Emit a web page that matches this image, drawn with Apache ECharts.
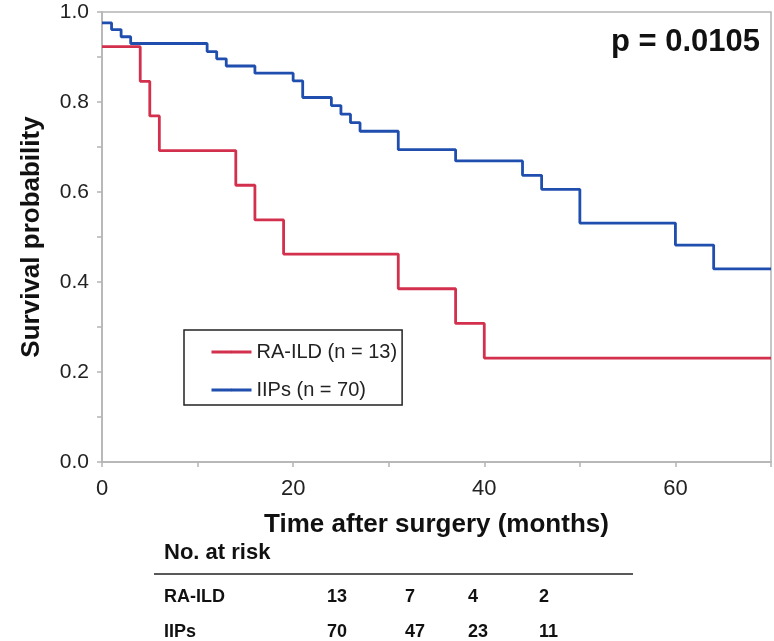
<!DOCTYPE html>
<html>
<head>
<meta charset="utf-8">
<script src="https://cdn.jsdelivr.net/npm/echarts@6/dist/echarts.min.js"></script>
<style>
html,body{margin:0;padding:0;background:#fff;}
#main{width:774px;height:641px;}
</style>
</head>
<body>
<div id="main"></div>
<script>
// ---- data ----
const seriesNames = ['RA-ILD (n = 13)', 'IIPs (n = 70)'];
const raTimes  = [0, 4, 5, 6, 14, 16, 19, 31, 37, 40, 70];
const raSurv   = [0.923, 0.846, 0.769, 0.692, 0.615, 0.538, 0.462, 0.385, 0.308, 0.231, 0.231];
const iipTimes = [0, 1, 2, 3, 11, 12, 13, 16, 20, 21, 24, 25, 26, 27, 31, 37, 44, 46, 50, 60, 64, 70];
const iipSurv  = [0.976, 0.961, 0.945, 0.930, 0.912, 0.896, 0.880, 0.864, 0.847, 0.810, 0.792, 0.773, 0.754, 0.735, 0.694, 0.669, 0.637, 0.606, 0.531, 0.482, 0.429, 0.429];
const xTicks = [0, 20, 40, 60];
const yTicks = [0.0, 0.2, 0.4, 0.6, 0.8, 1.0];
const pValueText = 'p = 0.0105';
const riskGroups = ['RA-ILD', 'IIPs'];
const riskRA  = [13, 7, 4, 2];
const riskIIP = [70, 47, 23, 11];

const FONT = 'Liberation Sans, Arial, sans-serif';
const RED = '#d3304d';
const BLUE = '#1f4eae';
const AXIS = '#b4b4b4';

const chart = echarts.init(document.getElementById('main'), null, {renderer: 'canvas'});

function pairs(ts, vs) { return ts.map((t, i) => [t, vs[i]]); }

// risk table graphics
const colX = [327, 405, 468, 539];
const riskRows = [riskRA, riskIIP];
const rowY = [597, 632];
const graphics = [];
graphics.push({type: 'text', x: 760, y: 42, style: {text: pValueText, font: 'bold 31px ' + FONT, fill: '#111', align: 'right', verticalAlign: 'middle'}});
graphics.push({type: 'text', x: 164, y: 553, style: {text: 'No. at risk', font: 'bold 22px ' + FONT, fill: '#111', verticalAlign: 'middle'}});
graphics.push({type: 'line', shape: {x1: 154, y1: 574, x2: 633, y2: 574}, style: {stroke: '#222', lineWidth: 1.5}});
riskGroups.forEach((g, r) => {
  graphics.push({type: 'text', x: 164, y: rowY[r], style: {text: g, font: 'bold 18px ' + FONT, fill: '#111', verticalAlign: 'middle'}});
  riskRows[r].forEach((v, c) => {
    graphics.push({type: 'text', x: colX[c], y: rowY[r], style: {text: String(v), font: 'bold 18px ' + FONT, fill: '#111', verticalAlign: 'middle'}});
  });
});

chart.setOption({
  animation: false,
  backgroundColor: '#fff',
  grid: {left: 102, right: 3, top: 12, bottom: 179, show: true, borderColor: AXIS, borderWidth: 1.5, containLabel: false},
  xAxis: {
    type: 'value', min: 0, max: 70, interval: 20,
    name: 'Time after surgery (months)', nameLocation: 'middle', nameGap: 50,
    nameTextStyle: {fontFamily: FONT, fontWeight: 'bold', fontSize: 26, color: '#111'},
    axisLine: {show: true, lineStyle: {color: AXIS, width: 1.5}},
    axisTick: {show: true, length: 5, lineStyle: {color: AXIS, width: 1.5}},
    minorTick: {show: true, splitNumber: 2, length: 5, lineStyle: {color: AXIS, width: 1.5}},
    axisLabel: {fontFamily: FONT, fontSize: 22, color: '#222', margin: 16, showMaxLabel: false,
      formatter: v => xTicks.includes(v) ? String(v) : ''},
    splitLine: {show: false}
  },
  yAxis: {
    type: 'value', min: 0, max: 1, interval: 0.2,
    name: 'Survival probability', nameLocation: 'middle', nameGap: 57,
    nameTextStyle: {fontFamily: FONT, fontWeight: 'bold', fontSize: 26, color: '#111'},
    axisLine: {show: true, lineStyle: {color: AXIS, width: 1.5}},
    axisTick: {show: true, length: 5, lineStyle: {color: AXIS, width: 1.5}},
    minorTick: {show: true, splitNumber: 2, length: 5, lineStyle: {color: AXIS, width: 1.5}},
    axisLabel: {fontFamily: FONT, fontSize: 21, color: '#222', margin: 13,
      formatter: v => { const t = yTicks.find(y => Math.abs(y - v) < 1e-6); return t === undefined ? '' : t.toFixed(1); }},
    splitLine: {show: false}
  },
  legend: {
    orient: 'vertical', left: 184, top: 330,
    data: seriesNames,
    borderColor: '#222', borderWidth: 1.5, borderRadius: 0,
    padding: [12, 5, 5, 26],
    itemWidth: 40, itemHeight: 3, itemGap: 18,
    lineStyle: {width: 3},
    textStyle: {fontFamily: FONT, fontSize: 20, color: '#222'}
  },
  series: [
    {name: seriesNames[0], type: 'line', step: 'end', symbol: 'none', data: pairs(raTimes, raSurv),
      lineStyle: {color: RED, width: 2.8}, itemStyle: {color: RED}, z: 3},
    {name: seriesNames[1], type: 'line', step: 'end', symbol: 'none', data: pairs(iipTimes, iipSurv),
      lineStyle: {color: BLUE, width: 2.8}, itemStyle: {color: BLUE}, z: 2}
  ],
  graphic: graphics
});
</script>
</body>
</html>
